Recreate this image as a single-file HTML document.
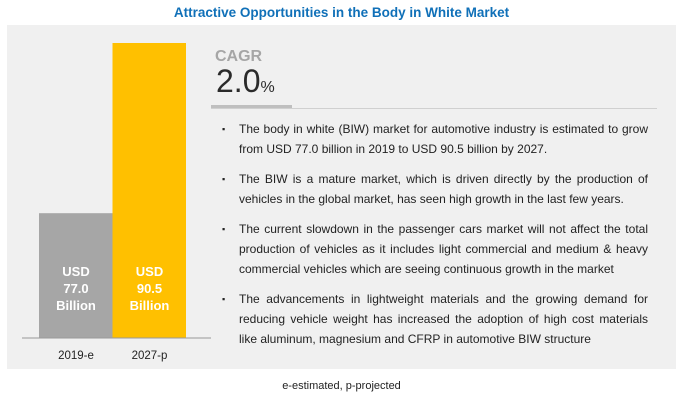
<!DOCTYPE html>
<html><head><meta charset="utf-8">
<style>
body{margin:0;width:683px;height:401px;background:#fff;font-family:"Liberation Sans",sans-serif;position:relative;overflow:hidden}
.title{position:absolute;left:0;width:683px;top:5px;text-align:center;color:#1070b8;font-weight:bold;font-size:13.5px}
.panel{position:absolute;left:7px;top:25px;width:669px;height:344px;background:#f0f0f0}
.cagr{position:absolute;left:215px;top:48px;color:#a6a6a6;font-weight:bold;font-size:16px}
.val{position:absolute;left:216px;top:63px;color:#2a2a2a;font-size:32px}
.val span{font-size:16px}
.bar1{position:absolute;left:211px;top:105px;width:81px;height:4px;background:#bfbfbf}
.bar2{position:absolute;left:211px;top:108px;width:446px;height:1px;background:#d0d0d0}
ul{position:absolute;left:222px;top:119px;width:426px;margin:0;padding:0;list-style:none;font-size:12px;color:#222;line-height:20px}
li{position:relative;padding-left:17px;text-align:justify;margin-bottom:10px}
li:before{content:"▪";position:absolute;left:0;top:0;font-size:9px}
.foot{position:absolute;left:0;width:683px;top:380px;text-align:center;font-size:11px;color:#222}
</style></head><body>
<div class="title">Attractive Opportunities in the Body in White Market</div>
<div class="panel"></div>
<svg id="chart" width="683" height="401" style="position:absolute;left:0;top:0"></svg>
<div class="cagr">CAGR</div>
<div class="val">2.0<span>%</span></div>
<div class="bar1"></div>
<div class="bar2"></div>
<ul>
<li>The body in white (BIW) market for automotive industry is estimated to grow from USD 77.0 billion in 2019 to USD 90.5 billion by 2027.</li>
<li>The BIW is a mature market, which is driven directly by the production of vehicles in the global market, has seen high growth in the last few years.</li>
<li>The current slowdown in the passenger cars market will not affect the total production of vehicles as it includes light commercial and medium &amp; heavy commercial vehicles which are seeing continuous growth in the market</li>
<li>The advancements in lightweight materials and the growing demand for reducing vehicle weight has increased the adoption of high cost materials like aluminum, magnesium and CFRP in automotive BIW structure</li>
</ul>
<div class="foot">e-estimated, p-projected</div>
<script>
const categories=["2019-e","2027-p"];
const values=[77.0,90.5];
const colors=["#a6a6a6","#ffc000"];
const NS="http://www.w3.org/2000/svg";
const svg=document.getElementById('chart');
const y=v=>338-(v-67.1)/(90.5-67.1)*295;
const x=i=>39+i*73.5;
function mk(t,a){const e=document.createElementNS(NS,t);for(const k in a)e.setAttribute(k,a[k]);svg.appendChild(e);return e;}
categories.forEach((c,i)=>{
  const r=mk('rect',{x:x(i),y:y(values[i]),width:73.5,height:338-y(values[i]),fill:colors[i]});
  
  
  ["USD",values[i].toFixed(1),"Billion"].forEach((s,j)=>{
    const t=mk('text',{x:x(i)+37,y:276+j*17,'text-anchor':'middle',fill:'#fff','font-weight':'bold','font-size':'13','font-family':'Liberation Sans, sans-serif'});
    t.textContent=s;
    
    
  });
  const l=mk('text',{x:x(i)+37,y:359,'text-anchor':'middle',fill:'#222','font-size':'11.5','font-family':'Liberation Sans, sans-serif'});
  l.textContent=c;
  
  
});
const ax=mk('line',{x1:22,x2:211,y1:338,y2:338,stroke:'#999','stroke-width':1});


</script>
</body></html>
